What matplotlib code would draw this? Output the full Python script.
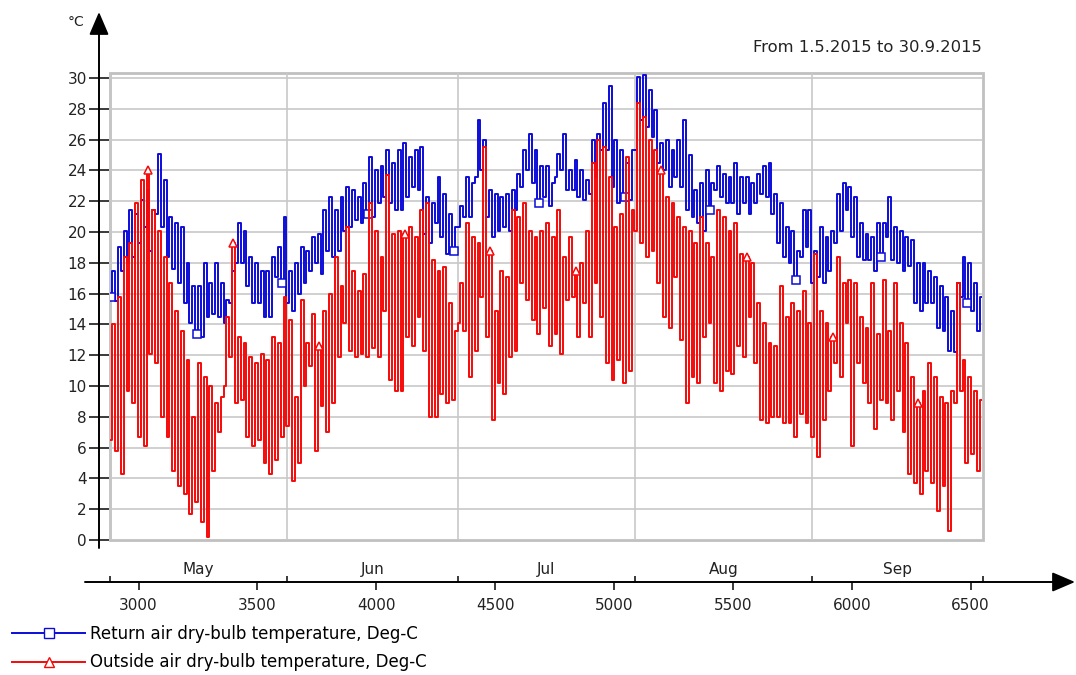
import numpy as np
import matplotlib
matplotlib.use("Agg")
import matplotlib.pyplot as plt
from matplotlib.lines import Line2D
from matplotlib.patches import Rectangle

plt.rcParams['font.family'] = ['DejaVu Sans']

# -----------------------
# Data: daily peaks/troughs, 1.5.2015 .. 30.9.2015
# -----------------------
START_HOUR = 2880          # hour of year for 1 May
HOUR_MIN, HOUR_MAX = 5, 15  # hour of day where trough / peak sits

ret_max = [17.5, 19, 20.1, 21.4, 21.2, 22.1, 22.7, 21.4, 25.1, 23.4,
           21, 20.6, 20.3, 18, 16.5, 16.5, 18, 16.7, 18, 16.7,
           15.6, 17.5, 20.6, 20.1, 18.4, 18, 17.5, 17.5, 18.4, 19,
           21, 17.5, 18, 19, 18.8, 19.7, 19.9, 21.4, 22.3, 21.4,
           22.3, 22.9, 22.7, 22.3, 23.2, 24.9, 24, 24.3, 25.3, 24.5,
           25.3, 25.8, 24.9, 25.3, 25.5, 22.3, 21.9, 23.6, 22.5, 21.2,
           20.3, 21.7, 23.6, 23.2, 27.3, 26, 22.7, 22.5, 22.3, 22.5,
           22.7, 23.8, 25.3, 26.4, 25.3, 24.3, 24.3, 23.2, 25.1, 26.4,
           24, 24.7, 24, 23.4, 26, 26.4, 28.4, 29.5, 26, 25.3,
           24.5, 25.3, 30.1, 30.2, 29.2, 27.9, 25.8, 26, 25.3, 26,
           27.3, 25, 22.7, 23.2, 24, 23.2, 24.3, 23.8, 23.6, 24.5,
           23.6, 23.6, 23.2, 23.8, 24.3, 24.5, 22.5, 21.9, 20.3, 20.1,
           18.8, 21.4, 21.4, 18.8, 20.3, 19.7, 20.1, 22.5, 23.2, 22.9,
           22.3, 20.6, 19.9, 19.7, 20.6, 20.6, 22.3, 20.3, 20.1, 19.7,
           19.5, 18, 18, 17.5, 17.1, 16.5, 15.8, 14.9, 16.7, 18.4,
           18, 16.7, 15.8]
ret_min = [15.8, 15.5, 17.5, 18, 18.4, 19.3, 20.3, 18.8, 21.2, 20.3,
           18.4, 17.6, 16.7, 15.4, 14.1, 13.4, 13.2, 14.5, 14.7, 14.5,
           14.1, 15.4, 18, 18, 16.5, 15.4, 15.4, 14.5, 14.5, 17.1,
           16.7, 15.4, 14.9, 16, 16.7, 17.5, 18, 17.3, 18.8, 18.4,
           18.8, 20.1, 20.3, 20.8, 20.6, 21.2, 21, 21.9, 22.3, 21.9,
           21.4, 21.4, 22.3, 22.9, 22.7, 19.9, 19.3, 20.6, 19.7, 18.6,
           18.8, 20.3, 21, 21, 23.6, 24, 21, 19.7, 20.1, 20.3,
           20.1, 21.4, 22.9, 24, 23.2, 21.9, 22.3, 21.7, 23.6, 24,
           22.7, 22.7, 22.3, 22.1, 22.5, 23.6, 25.3, 25.3, 22.9, 21.9,
           22.3, 22.1, 25.3, 27.3, 26.8, 26.2, 24.5, 24, 22.9, 23.6,
           22.9, 21.4, 21, 20.6, 20.1, 21.4, 22.7, 22.3, 21.9, 21.9,
           21.2, 21.9, 21.2, 21.9, 22.5, 22.3, 21.2, 19.3, 18.4, 18,
           16.9, 18.4, 19, 16.7, 17.1, 16.7, 17.5, 19.3, 20.1, 21.4,
           19.7, 18.4, 18.2, 18.2, 17.5, 18.4, 19.7, 18.2, 18, 17.5,
           17.8, 15.4, 14.9, 15.4, 15.4, 13.8, 13.6, 12.3, 12.2, 15.8,
           15.4, 14.9, 13.6]
out_max = [14, 15.8, 18.4, 19.3, 21.9, 23.4, 24, 21.4, 20.1, 18.4,
           16.7, 14.9, 13.6, 11.7, 8, 11.5, 10.6, 10, 8.9, 9.3,
           14.5, 19.3, 13.2, 12.8, 11.9, 11.5, 12.1, 11.7, 13.2, 12.8,
           15.8, 14.3, 9.3, 15.6, 12.8, 14.7, 12.6, 14.9, 16, 18.4,
           16.5, 20.3, 17.5, 16.2, 17.3, 21.9, 20.1, 18.4, 23.7, 19.9,
           20.1, 19.9, 20.3, 19.7, 21.4, 21.9, 18.2, 17.5, 17.7, 15.4,
           13.6, 16.7, 20.6, 19.7, 19.3, 25.5, 18.8, 14.9, 17.5, 17.1,
           21.4, 21, 21.9, 20.1, 19.7, 20.1, 20.6, 19.7, 21.4, 18.4,
           19.7, 17.5, 18, 20.1, 24.5, 26, 25.5, 23.6, 20.3, 21.2,
           24.9, 21.4, 28.4, 27.5, 26, 25.3, 24, 22.3, 21.9, 21,
           20.3, 20.1, 19.3, 21, 19.3, 18.4, 21.4, 21, 20.1, 20.6,
           18.6, 18.4, 18, 15.4, 14.1, 12.8, 12.6, 16.5, 14.5, 15.4,
           14.9, 16.2, 14.1, 18.6, 14.9, 14.1, 13.2, 18.4, 16.7, 16.9,
           16.7, 14.5, 13.8, 16.7, 13.4, 16.9, 13.6, 16.7, 14.1, 12.8,
           10.6, 8.9, 9.7, 11.5, 10.6, 9.3, 8.9, 9.7, 16.7, 11.7,
           10.6, 9.7, 9.1]
out_min = [6.5, 5.8, 4.3, 9.7, 8.9, 6.7, 6.1, 12.1, 11.5, 8,
           6.7, 4.5, 3.5, 3, 1.7, 2.5, 1.2, 0.2, 4.5, 7,
           10, 11.9, 8.9, 9.1, 6.7, 6.1, 6.5, 5, 4.3, 5.2,
           6.7, 7.4, 3.8, 5, 10, 11.3, 5.8, 8.7, 7, 8.9,
           11.9, 14.1, 12.3, 11.9, 12.1, 11.9, 12.5, 11.9, 14.9, 10.4,
           9.7, 9.7, 13.2, 12.6, 14.5, 12.3, 8, 8, 9.5, 8.9,
           9.1, 14.1, 13.6, 10.6, 12.3, 15.8, 13.2, 7.8, 10.2, 9.5,
           11.9, 12.3, 16.7, 15.6, 14.3, 13.4, 15.1, 12.6, 13.4, 12.1,
           15.6, 15.8, 13.2, 15.4, 13.2, 16.7, 14.5, 11.5, 10.4, 11.7,
           10.2, 11, 20.1, 19.3, 18.4, 18.8, 16.7, 14.5, 13.8, 17.1,
           13, 8.9, 10.6, 10.2, 13.2, 14.1, 10.2, 9.7, 11, 10.8,
           12.6, 11.9, 14.5, 11.5, 7.8, 7.6, 8, 8, 7.6, 7.6,
           6.7, 8.2, 7.6, 6.7, 5.4, 7.8, 9.7, 11.5, 10.6, 14.1,
           6.1, 11.5, 10.2, 8.9, 7.2, 9.1, 8.9, 7.8, 9.7, 7,
           4.3, 3.7, 3, 4.5, 3.7, 1.9, 3.5, 0.6, 8.9, 9.7,
           5, 5.6, 4.5]

month_names = ['May', 'Jun', 'Jul', 'Aug', 'Sep']
month_starts = [2880, 3624, 4344, 5088, 5832, 6552]
x_ticks = [3000, 3500, 4000, 4500, 5000, 5500, 6000, 6500]
y_ticks = list(range(0, 31, 2))

ret_label = "Return air dry-bulb temperature, Deg-C"
out_label = "Outside air dry-bulb temperature, Deg-C"
title = "From 1.5.2015 to 30.9.2015"


def daily_series(lows, highs):
    """Interleave daily troughs and peaks into one hour-indexed series."""
    hours, vals = [], []
    for d, (lo, hi) in enumerate(zip(lows, highs)):
        hours += [START_HOUR + 24 * d + HOUR_MIN, START_HOUR + 24 * d + HOUR_MAX]
        vals += [lo, hi]
    return np.array(hours), np.array(vals)


# -----------------------
# Figure (layout given in pixels of the 1076x675 picture)
# -----------------------
W, H = 1076, 675
PT = 72 / 100  # points per pixel at dpi 100
fig = plt.figure(figsize=(W / 100, H / 100), dpi=100)


def fx(px):
    return px / W


def fy(py):
    return 1 - py / H


ax = fig.add_axes([fx(110), fy(540), fx(983) - fx(110), fy(73) - fy(540)])

BLUE = '#0c0cd8'
RED = '#f50a0a'

hx, hv = daily_series(ret_min, ret_max)
ax.plot(hx, hv, color=BLUE, lw=1.4, drawstyle='steps-mid',
        marker='s', markevery=(0, 30), ms=6, mfc='white', mec=BLUE, mew=1.1)
hx, hv = daily_series(out_min, out_max)
ax.plot(hx, hv, color=RED, lw=1.4, drawstyle='steps-mid',
        marker='^', markevery=(13, 30), ms=6, mfc='white', mec=RED, mew=1.1)

ax.set_xlim(month_starts[0], month_starts[-1])
ax.set_ylim(0, 30.33)

# grid + grey frame
ax.set_yticks(y_ticks)
ax.set_xticks(x_ticks)
ax.set_xticks(month_starts, minor=True)
ax.grid(which='major', axis='y', color='#c8c8c8', lw=1.2)
ax.grid(which='minor', axis='x', color='#c8c8c8', lw=1.2)
ax.set_axisbelow(True)
ax.add_patch(Rectangle((0, 0), 1, 1, transform=ax.transAxes, fill=False,
                       edgecolor='#c0c0c0', lw=2, clip_on=False, zorder=0.5))

for s in ax.spines.values():
    s.set_visible(False)
ax.spines['left'].set_position(('outward', 11 * PT))
ax.spines['bottom'].set_position(('outward', 42 * PT))

ax.tick_params(axis='y', direction='inout', length=20 * PT, width=1.5 * PT,
               pad=2 * PT, labelsize=11, labelcolor='#222222')
ax.tick_params(axis='x', which='major', direction='out', length=8 * PT,
               width=1.5 * PT, pad=8 * PT, labelsize=11, labelcolor='#222222')
ax.tick_params(axis='x', which='minor', direction='in', length=6 * PT, width=1.5 * PT)

# month names between the frame and the axis line
for i, name in enumerate(month_names):
    mid = (month_starts[i] + month_starts[i + 1]) / 2
    ax.text(mid, -0.064, name, transform=ax.get_xaxis_transform(),
            ha='center', va='center', fontsize=11, color='#222222')

# arrowed axis lines
arrow = dict(arrowstyle='-|>,head_length=0.7,head_width=0.3', color='black',
             lw=1.4, mutation_scale=20, shrinkA=0, shrinkB=0)
fig.add_artist(plt.Annotation('', xy=(fx(1075), fy(582)), xytext=(fx(85), fy(582)),
                              xycoords='figure fraction', arrowprops=arrow))
fig.add_artist(plt.Annotation('', xy=(fx(99), fy(12)), xytext=(fx(99), fy(548)),
                              xycoords='figure fraction', arrowprops=arrow))

fig.text(fx(76), fy(22), '°C', ha='center', va='center', fontsize=10, color='#222222')
fig.text(fx(982), fy(47), title, ha='right', va='center', fontsize=11.8, color='#222222')

# legend below the chart
handles = [Line2D([], [], color=BLUE, lw=1.4, marker='s', ms=7, mfc='white', mec=BLUE),
           Line2D([], [], color=RED, lw=1.4, marker='^', ms=7, mfc='white', mec=RED)]
fig.legend(handles, [ret_label, out_label], loc='upper left',
           bbox_to_anchor=(fx(12), fy(625)), frameon=False, fontsize=12,
           handlelength=4.4, handletextpad=0.3, labelspacing=0.62,
           numpoints=1, borderaxespad=0, borderpad=0)

fig.savefig('out.png', dpi=100)
